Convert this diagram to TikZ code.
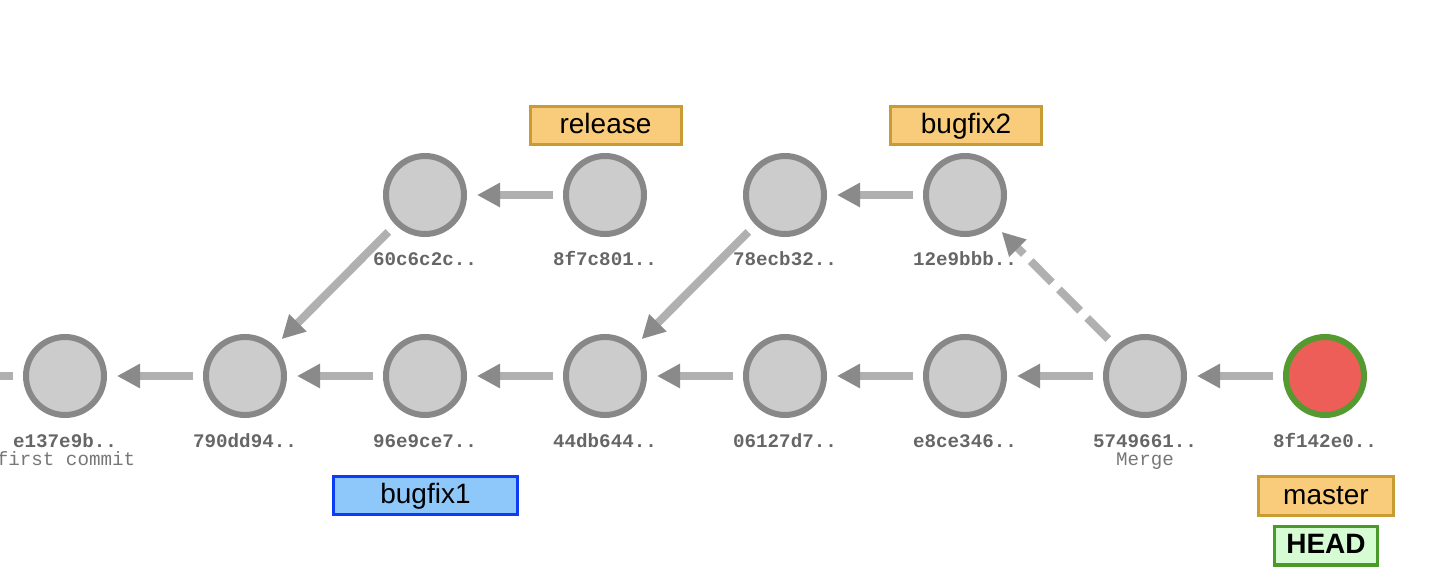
\documentclass[tikz,border=0pt]{standalone}
\usepackage{fontspec}
\setmainfont{Liberation Sans}
\setmonofont{Liberation Mono}
\usetikzlibrary{arrows.meta}

\definecolor{commitfill}{HTML}{CCCCCC}
\definecolor{commitline}{HTML}{888888}
\definecolor{edgegray}{HTML}{B0B0B0}
\definecolor{tipgray}{HTML}{8A8A8A}
\definecolor{hashgray}{HTML}{666666}
\definecolor{msggray}{HTML}{777777}
\definecolor{headred}{HTML}{ED5E59}
\definecolor{headgreen}{HTML}{559A30}
\definecolor{branchfill}{HTML}{F8CC7A}
\definecolor{branchline}{HTML}{C99B33}
\definecolor{curfill}{HTML}{8EC8FA}
\definecolor{curline}{HTML}{0A3DF5}
\definecolor{headfill}{HTML}{D6FCD4}
\definecolor{headline}{HTML}{4A9A2A}

\tikzset{every picture/.style={line width=0.75pt}}
\tikzset{
  commit/.style={circle, draw=commitline, fill=commitfill, line width=3pt, minimum size=39pt, inner sep=0pt, outer sep=6.5pt},
  headcommit/.style={commit, draw=headgreen, fill=headred},
  hashtext/.style={anchor=base, inner sep=0pt, text=hashgray, font=\fontsize{9.6}{11}\selectfont\ttfamily\bfseries},
  msgtext/.style={anchor=base, inner sep=0pt, text=msggray, font=\fontsize{9.6}{11}\selectfont\ttfamily},
  branch/.style={draw=branchline, fill=branchfill, line width=1.5pt, inner sep=0pt, minimum height=19.25pt, text height=8.25pt, text depth=0pt, font=\fontsize{14}{16}\selectfont},
  curbranch/.style={branch, draw=curline, fill=curfill},
  headref/.style={branch, draw=headline, fill=headfill, line width=1.75pt, font=\fontsize{14}{16}\selectfont\bfseries},
  parent/.style={draw=edgegray, line width=4pt, -{Triangle[length=11.5pt, width=11.5pt, color=tipgray]}},
  mergeparent/.style={parent, dash pattern={on 15pt off 5pt}},
}

\begin{document}
\begin{tikzpicture}[x=0.5pt,y=0.5pt,yscale=-1,xscale=1]
\useasboundingbox (0,0) rectangle (1440,582);
\clip (0,0) rectangle (1440,582);

%Commits, lower row
\node[commit] (c1) at (65,376) {};
\node[commit] (c2) at (245,376) {};
\node[commit] (c3) at (425,376) {};
\node[commit] (c4) at (605,376) {};
\node[commit] (c5) at (785,376) {};
\node[commit] (c6) at (965,376) {};
\node[commit] (c7) at (1145,376) {};
\node[headcommit] (c8) at (1325,376) {};
%Commits, upper row
\node[commit] (r1) at (425,195) {};
\node[commit] (r2) at (605,195) {};
\node[commit] (b1) at (785,195) {};
\node[commit] (b2) at (965,195) {};

% Hash labels
\node[hashtext] (h1) at (65,447) {e137e9b..};
\node[hashtext] (h2) at (245,447) {790dd94..};
\node[hashtext] (h3) at (425,447) {96e9ce7..};
\node[hashtext] (h4) at (605,447) {44db644..};
\node[hashtext] (h5) at (785,447) {06127d7..};
\node[hashtext] (h6) at (965,447) {e8ce346..};
\node[hashtext] (h7) at (1145,447) {5749661..};
\node[hashtext] (h8) at (1325,447) {8f142e0..};
\node[hashtext] (hr1) at (425,266) {60c6c2c..};
\node[hashtext] (hr2) at (605,266) {8f7c801..};
\node[hashtext] (hb1) at (785,266) {78ecb32..};
\node[hashtext] (hb2) at (965,266) {12e9bbb..};
% Messages
\node[msgtext] (m1) at (66,466) {first commit};
\node[msgtext] (m7) at (1145,466) {Merge};

% Branch labels
\node[branch, minimum width=75.5pt] (release) at (605.5,125.5) {release};
\node[branch, minimum width=75.5pt] (bugfix2) at (966,125.5) {bugfix2};
\node[curbranch, minimum width=92pt] (bugfix1) at (425.5,495.5) {bugfix1};
\node[branch, minimum width=67.5pt] (master) at (1326,496) {master};
\node[headref, minimum width=51.5pt] (head) at (1326,545.5) {HEAD};

% Parent links
\coordinate (off) at (-80,376);
\draw[parent] (c1) -- (off);
\draw[parent] (c2) -- (c1);
\draw[parent] (c3) -- (c2);
\draw[parent] (c4) -- (c3);
\draw[parent] (c5) -- (c4);
\draw[parent] (c6) -- (c5);
\draw[parent] (c7) -- (c6);
\draw[parent] (c8) -- (c7);
\draw[parent] (r1) -- (c2);
\draw[parent] (r2) -- (r1);
\draw[parent] (b1) -- (c4);
\draw[parent] (b2) -- (b1);
\draw[mergeparent] (c7) -- (b2);

\end{tikzpicture}
\end{document}
